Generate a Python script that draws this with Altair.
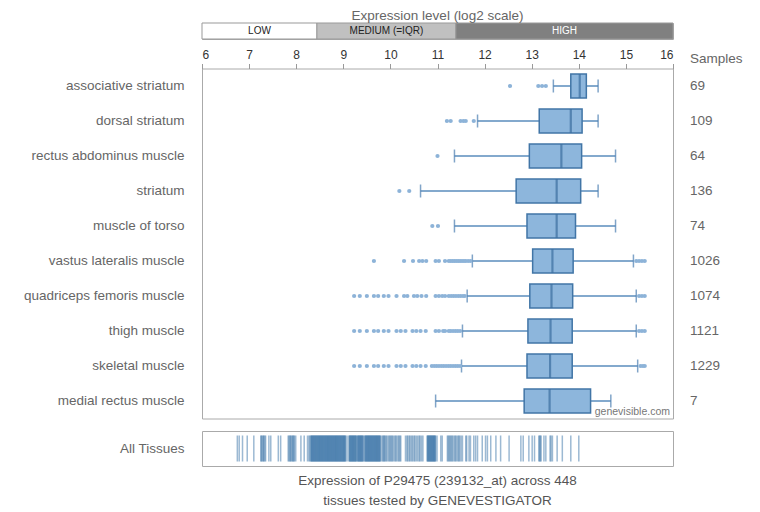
import altair as alt
import pandas as pd

FONT = "Liberation Sans"

# ---- data ----
tissues = ["associative striatum", "dorsal striatum", "rectus abdominus muscle", "striatum",
           "muscle of torso", "vastus lateralis muscle", "quadriceps femoris muscle",
           "thigh muscle", "skeletal muscle", "medial rectus muscle"]
samples = [69, 109, 64, 136, 74, 1026, 1074, 1121, 1229, 7]
whisker_low = [13.46, 11.85, 11.36, 10.64, 11.36, 11.74, 11.63, 11.53, 11.51, 10.96]
q1 = [13.83, 13.16, 12.95, 12.67, 12.90, 13.02, 12.96, 12.92, 12.90, 12.84]
median = [14.02, 13.83, 13.63, 13.53, 13.53, 13.44, 13.42, 13.40, 13.39, 13.38]
q3 = [14.16, 14.07, 14.06, 14.04, 13.93, 13.88, 13.87, 13.86, 13.86, 14.25]
whisker_high = [14.41, 14.41, 14.78, 14.41, 14.78, 15.16, 15.22, 15.22, 15.25, 14.68]

outliers = {
    "associative striatum": [12.54, 13.14, 13.22, 13.30],
    "dorsal striatum": [11.20, 11.28, 11.49, 11.55, 11.60, 11.77],
    "rectus abdominus muscle": [11.00],
    "striatum": [10.19, 10.40],
    "muscle of torso": [10.89, 11.01],
    "vastus lateralis muscle": [9.65, 10.29, 10.48, 10.61, 10.68, 10.76, 10.96, 11.03, 11.16,
                                11.24, 11.28, 11.32, 11.36, 11.40, 11.44, 11.48, 11.52, 11.56,
                                11.60, 11.65, 11.70, 15.22, 15.28, 15.34, 15.40],
    "quadriceps femoris muscle": [9.23, 9.35, 9.50, 9.65, 9.74, 9.86, 9.96, 10.13, 10.29, 10.36,
                                  10.50, 10.57, 10.66, 10.76, 10.96, 11.03, 11.10, 11.16, 11.24,
                                  11.29, 11.34, 11.39, 11.44, 11.49, 11.54, 11.58,
                                  15.28, 15.34, 15.40],
    "thigh muscle": [9.23, 9.35, 9.50, 9.65, 9.74, 9.86, 9.96, 10.13, 10.22, 10.32, 10.47, 10.55,
                     10.64, 10.75, 10.96, 11.03, 11.12, 11.16, 11.24, 11.28, 11.33, 11.38, 11.43,
                     11.48, 15.28, 15.34, 15.40],
    "skeletal muscle": [9.23, 9.35, 9.50, 9.65, 9.74, 9.86, 9.96, 10.13, 10.22, 10.32, 10.47,
                        10.55, 10.64, 10.75, 10.88, 10.93, 10.98, 11.03, 11.08, 11.13, 11.18,
                        11.23, 11.28, 11.33, 11.38, 11.43, 11.48, 15.31, 15.36, 15.40],
    "medial rectus muscle": [],
}

band_labels = ["LOW", "MEDIUM (=IQR)", "HIGH"]
band_start = [6.0, 8.44, 11.39]
band_end = [8.44, 11.39, 16.0]
band_fill = ["#ffffff", "#c0c0c0", "#808080"]
band_text_color = ["#222222", "#222222", "#ffffff"]

all_tissue_values = [
    6.75, 6.79, 6.86, 6.96, 7.10, 7.25, 7.26, 7.28, 7.30, 7.31, 7.33, 7.35, 7.42, 7.46,
    7.62, 7.67, 7.83, 7.85, 7.87, 7.88, 7.90, 7.92, 7.93, 7.95, 7.96, 7.99, 8.10, 8.17,
    8.24, 8.27, 8.29,
    8.31, 8.32, 8.33, 8.34, 8.35, 8.36, 8.37, 8.38, 8.39, 8.40,
    8.41, 8.42, 8.43, 8.44, 8.45, 8.46, 8.47, 8.48, 8.49, 8.50,
    8.51, 8.52, 8.53, 8.54, 8.55, 8.56, 8.57, 8.58, 8.59, 8.60,
    8.61, 8.62, 8.63, 8.64, 8.65, 8.66, 8.67, 8.68, 8.69, 8.70,
    8.71, 8.72, 8.73, 8.74, 8.75, 8.76, 8.77, 8.78, 8.79, 8.80,
    8.81, 8.82, 8.83, 8.84, 8.85, 8.86, 8.87, 8.88, 8.89, 8.90,
    8.91, 8.92, 8.93, 8.94, 8.95, 8.96, 8.97, 8.98, 8.99, 9.00,
    9.01, 9.02, 9.03, 9.04, 9.05, 9.08,
    9.12, 9.13, 9.14, 9.15, 9.16, 9.17, 9.18, 9.19, 9.20, 9.21, 9.22, 9.23, 9.24, 9.25,
    9.26, 9.27, 9.28, 9.30,
    9.31, 9.32, 9.33, 9.34, 9.35, 9.36, 9.37, 9.38, 9.39, 9.40, 9.41, 9.42, 9.44,
    9.46, 9.47, 9.48, 9.49, 9.50, 9.51, 9.52, 9.53, 9.54, 9.55, 9.56, 9.57, 9.58, 9.59,
    9.60, 9.61, 9.62, 9.63, 9.64, 9.65, 9.66, 9.67, 9.68, 9.69, 9.70, 9.71, 9.72, 9.73,
    9.74, 9.75, 9.76, 9.77, 9.78, 9.79,
    9.82, 9.84, 9.86, 9.87, 9.89, 9.91, 9.93, 9.96, 9.98, 10.00, 10.02, 10.04, 10.06,
    10.09, 10.11, 10.13, 10.16, 10.18, 10.20, 10.22,
    10.32, 10.35, 10.37, 10.40, 10.42, 10.45, 10.47, 10.50, 10.52, 10.55, 10.58,
    10.61, 10.63, 10.66, 10.69,
    10.78, 10.79, 10.80, 10.81, 10.82, 10.83, 10.84, 10.85, 10.86, 10.87, 10.88, 10.89,
    10.90, 10.91, 10.92, 10.93, 10.94, 10.95, 10.96, 10.99, 11.07, 11.10,
    11.21, 11.23, 11.25, 11.27, 11.29, 11.31, 11.33, 11.36, 11.38, 11.40, 11.43, 11.45,
    11.47, 11.50, 11.53, 11.60, 11.62, 11.67, 11.70, 11.77, 11.81, 11.85, 11.95, 12.02,
    12.06, 12.13, 12.24, 12.34, 12.52,
    12.77, 12.82, 12.94, 13.01, 13.06, 13.15, 13.17, 13.18, 13.20, 13.26, 13.30, 13.39,
    13.41, 13.44, 13.54, 13.65, 13.83, 14.00,
]

# ---- tables ----
W = 471
box_df = pd.DataFrame({"tissue": tissues, "samples": samples, "wlo": whisker_low, "q1": q1,
                       "median": median, "q3": q3, "whi": whisker_high})
out_rows = [{"tissue": t, "value": v} for t in tissues for v in outliers[t]]
out_df = pd.DataFrame(out_rows)
legend_df = pd.DataFrame({"label": band_labels, "start": band_start, "end": band_end,
                          "fill": band_fill, "tcolor": band_text_color})
legend_df["mid"] = (legend_df["start"] + legend_df["end"]) / 2
strip_df = pd.DataFrame({"value": all_tissue_values, "group": "All Tissues"})

xscale = alt.Scale(domain=[6, 16], nice=False, zero=False)
TXT = "#666666"

# ---- legend band ----
band = alt.Chart(legend_df).mark_rect(stroke="#999999", strokeWidth=1).encode(
    x=alt.X("start:Q", scale=xscale, axis=None),
    x2="end:Q",
    color=alt.Color("fill:N", scale=None),
)
band_txt = alt.Chart(legend_df).mark_text(fontSize=10, font=FONT, baseline="middle").encode(
    x=alt.X("mid:Q", scale=xscale, axis=None),
    y=alt.value(8),
    text="label:N",
    color=alt.Color("tcolor:N", scale=None),
)
legend_chart = alt.layer(band, band_txt).properties(
    width=W, height=16,
    title=alt.Title("Expression level (log2 scale)", fontSize=13.5, color=TXT, font=FONT,
                    fontWeight="normal", offset=0),
)

# ---- main box plots ----
yenc = alt.Y("tissue:N", scale=alt.Scale(domain=tissues, paddingInner=0, paddingOuter=0),
             axis=alt.Axis(title=None, ticks=False, domain=False, labelFontSize=13.5,
                           labelColor=TXT, labelPadding=18, labelFont=FONT, labelLimit=400))
xaxis = alt.Axis(orient="top", values=list(range(6, 17)), format="d", tickSize=5,
                 tickColor="#999999", labelFontSize=12, labelColor="#333333", labelFont=FONT,
                 labelPadding=2, domain=False, grid=False, title=None)

whisk = alt.Chart(box_df).mark_rule(color="#5a8cbc", strokeWidth=1.5).encode(
    x=alt.X("wlo:Q", scale=xscale, axis=xaxis), x2="whi:Q", y=yenc)
box = alt.Chart(box_df).mark_bar(size=24, fill="#8db6dc", stroke="#4175a6",
                                 strokeWidth=1.5).encode(
    x=alt.X("q1:Q", scale=xscale), x2="q3:Q", y=yenc)
med = alt.Chart(box_df).mark_tick(size=24, thickness=2.2, color="#3a6d9e").encode(
    x=alt.X("median:Q", scale=xscale), y=yenc)
cap_lo = alt.Chart(box_df).mark_tick(size=13, thickness=1.5, color="#4a7eb0").encode(
    x=alt.X("wlo:Q", scale=xscale), y=yenc)
cap_hi = alt.Chart(box_df).mark_tick(size=13, thickness=1.5, color="#4a7eb0").encode(
    x=alt.X("whi:Q", scale=xscale), y=yenc)
pts = alt.Chart(out_df).mark_circle(size=18, color="#8db3d8", opacity=1).encode(
    x=alt.X("value:Q", scale=xscale), y=yenc)
samp = alt.Chart(box_df).mark_text(align="left", baseline="middle", fontSize=13.5, font=FONT,
                                   color=TXT).encode(
    x=alt.value(W + 17), y=yenc, text="samples:Q")
header = alt.Chart(pd.DataFrame({"t": ["Samples"]})).mark_text(
    align="left", baseline="middle", fontSize=13.5, font=FONT, color=TXT).encode(
    x=alt.value(W + 17), y=alt.value(-10), text="t:N")
credit = alt.Chart(pd.DataFrame({"t": ["genevisible.com"]})).mark_text(
    align="right", baseline="middle", fontSize=10.5, font=FONT, color="#777777").encode(
    x=alt.value(W - 3), y=alt.value(343), text="t:N")

main = alt.layer(whisk, box, med, cap_lo, cap_hi, pts, samp, header, credit).properties(
    width=W, height=350)

# ---- all tissues strip ----
strip_ticks = alt.Chart(strip_df).mark_tick(size=26, thickness=1.5, color="#3a73a8",
                                            opacity=0.5).encode(
    x=alt.X("value:Q", scale=xscale, axis=None),
    y=alt.Y("group:N", axis=alt.Axis(title=None, ticks=False, domain=False, labelFontSize=13.5,
                                     labelColor=TXT, labelPadding=18, labelFont=FONT)),
)
# invisible spacer extending the strip's bounds upward a little
spacer = alt.Chart(pd.DataFrame({"s": [0]})).mark_rule(color="#ffffff", strokeOpacity=0).encode(
    x=alt.value(0), y=alt.value(-3), y2=alt.value(0))
strip = alt.layer(strip_ticks, spacer).properties(
    width=W, height=35,
    title=alt.Title(["Expression of P29475 (239132_at) across 448",
                     "tissues tested by GENEVESTIGATOR"], orient="bottom", fontSize=13.5,
                    color="#555555", font=FONT, fontWeight="normal", lineHeight=20, offset=8),
)

chart = alt.vconcat(legend_chart, main, strip, spacing=7.5).properties(
    padding={"left": 14, "top": 0, "right": 5, "bottom": 0}
).configure(font=FONT).configure_view(stroke="#aaaaaa", strokeWidth=1)

chart.save("out.html", embed_options={"renderer": "svg", "actions": False})
